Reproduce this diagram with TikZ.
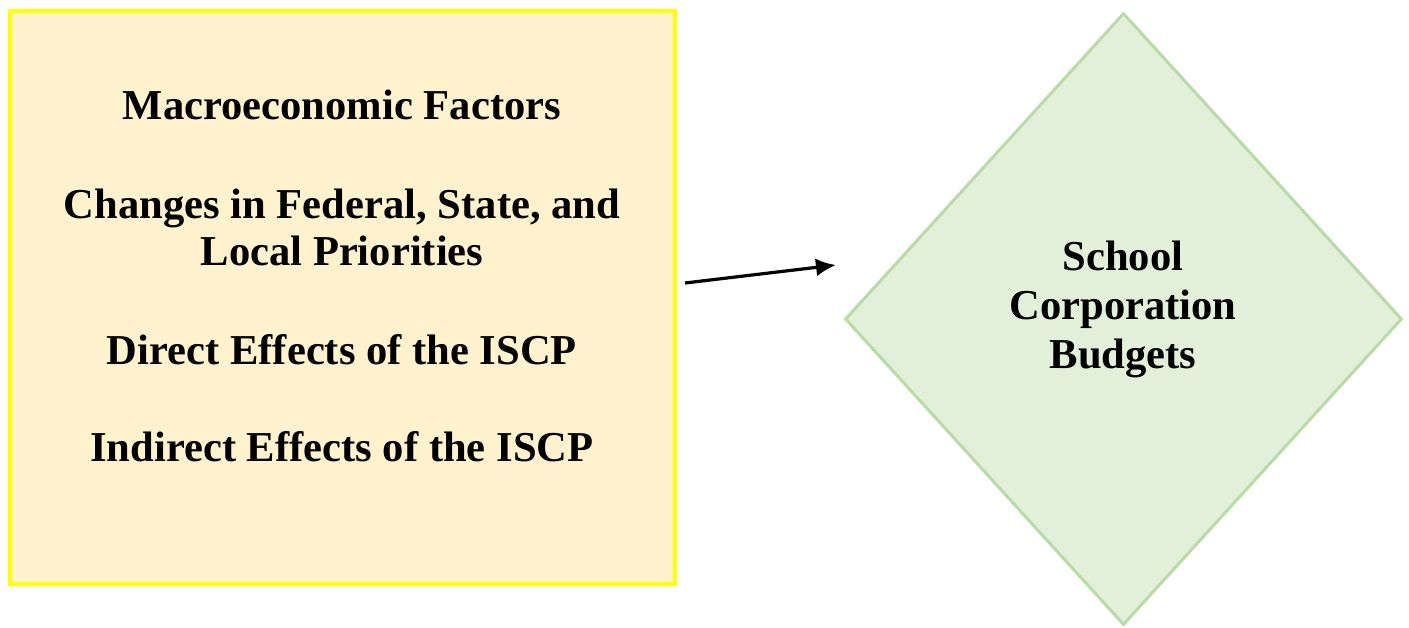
\documentclass[tikz,border=0pt]{standalone}
\usepackage{fontspec}
\setmainfont{Liberation Serif}
\usetikzlibrary{shapes.geometric,arrows.meta}
\definecolor{boxfill}{HTML}{FFF2CC}
\definecolor{boxline}{HTML}{FFFF00}
\definecolor{diafill}{HTML}{E2EFD9}
\definecolor{dialine}{HTML}{B9DBA5}
\begin{document}
\begin{tikzpicture}[x=.5pt,y=-.5pt,line join=miter,
 font=\fontsize{21.3}{23.5}\selectfont\bfseries,
 factorbox/.style={draw=boxline,fill=boxfill,line width=2pt,rectangle,
  minimum width=332.5pt,minimum height=286.5pt,inner sep=0pt},
 budgetdia/.style={draw=dialine,fill=diafill,line width=1.5pt,diamond,
  minimum width=278.5pt,minimum height=306pt,inner sep=0pt},
 label/.style={align=center,inner sep=0pt},
 link/.style={-{Latex[length=10pt,width=9pt]},line width=1.6pt}]
\useasboundingbox (0,0) rectangle (1409,627);
\node[factorbox] (box) at (342.5,297.5) {};
\node[label] (factors) at (342,276) {Macroeconomic Factors\\[26pt]
  Changes in Federal, State, and\\Local Priorities\\[26pt]
  Direct Effects of the ISCP\\[25pt]
  Indirect Effects of the ISCP};
\node[budgetdia] (dia) at (1123.5,319) {};
\node[label,font=\fontsize{21.3}{24.5}\selectfont\bfseries] (budgets) at (1123,309)
  {School\\Corporation\\Budgets};
\coordinate (from) at (685,283);
\coordinate (to) at (836,265);
\draw[link] (from) -- (to);
\end{tikzpicture}
\end{document}
